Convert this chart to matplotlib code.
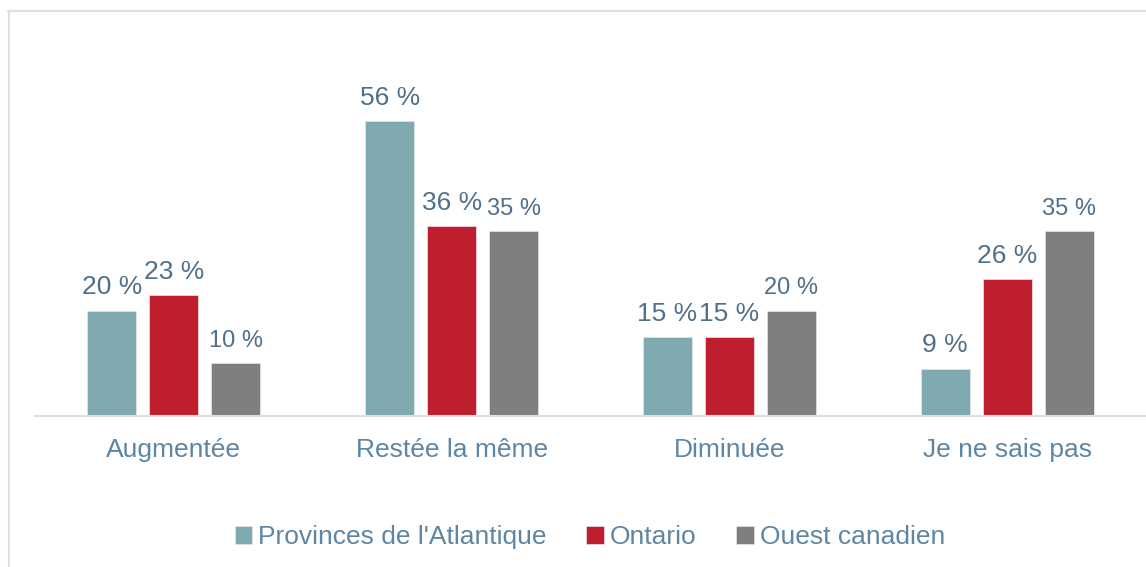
import matplotlib.pyplot as plt
import numpy as np
from matplotlib.lines import Line2D

categories = ['Augmentée', 'Restée la même', 'Diminuée', 'Je ne sais pas']
series_names = ["Provinces de l'Atlantique", 'Ontario', 'Ouest canadien']
atlantique = [20, 56, 15, 9]
ontario = [23, 36, 15, 26]
ouest = [10, 35, 20, 35]

colors = ['#7FAAB0', '#BE1E2D', '#7F7F7F']
label_color = '#4F6F8A'
axis_text = '#5E86A4'

plt.rcParams['font.family'] = ['Liberation Sans', 'DejaVu Sans']

fig = plt.figure(figsize=(11.46, 5.67), dpi=100)
ax = fig.add_axes([35 / 1146, 151 / 567, 1 - 35 / 1146, 386 / 567])

x = np.arange(len(categories))
width = 0.176
step = 0.223
all_series = [atlantique, ontario, ouest]
label_sizes = [19, 19, 17]
for i, (vals, name) in enumerate(zip(all_series, series_names)):
    bars = ax.bar(x + (i - 1) * step, vals, width, color=colors[i], label=name,
                  edgecolor='#E6E6E6', linewidth=0.5)
    for b, v in zip(bars, vals):
        ax.annotate(f'{v} %', (b.get_x() + b.get_width() / 2, v),
                    xytext=(0, 8), textcoords='offset points',
                    ha='center', va='bottom', fontsize=label_sizes[i],
                    color=label_color)

ax.set_xlim(-0.5, 3.5)
ax.set_ylim(0, 73.2)
ax.set_xticks(x)
ax.set_xticklabels(categories, fontsize=19, color=axis_text)
ax.tick_params(axis='x', length=0, pad=16)
ax.set_yticks([])
for s in ['top', 'right', 'left']:
    ax.spines[s].set_visible(False)
ax.spines['bottom'].set_color('#D9E0E8')
ax.spines['bottom'].set_linewidth(1.5)

leg = fig.legend(loc='center', bbox_to_anchor=(590 / 1146, 1 - 537 / 567), ncol=3,
                 frameon=False, fontsize=19, handlelength=0.65, handleheight=0.65,
                 handletextpad=0.25, columnspacing=1.5)
for t in leg.get_texts():
    t.set_color(axis_text)

# outer frame (left and top edges visible)
fig.add_artist(Line2D([8.5 / 1146, 8.5 / 1146], [0, 1 - 10.5 / 567], color='#D9E2EC', lw=1.5))
fig.add_artist(Line2D([8 / 1146, 1], [1 - 10.5 / 567, 1 - 10.5 / 567], color='#D9E2EC', lw=1.5))

fig.savefig('out.png', dpi=100)
